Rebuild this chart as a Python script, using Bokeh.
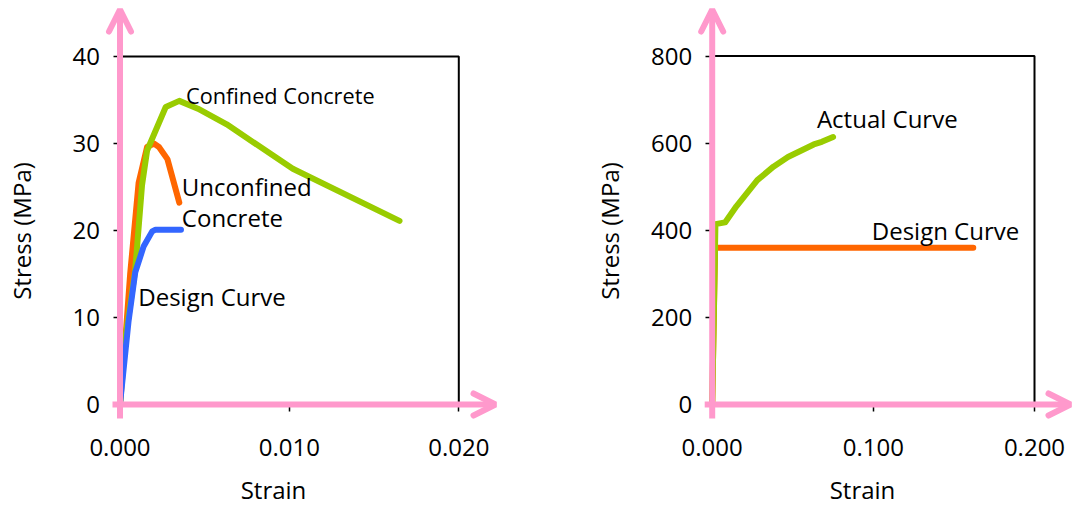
import math
from bokeh.plotting import figure
from bokeh.layouts import row
from bokeh.models import Range1d, FixedTicker, NumeralTickFormatter, Arrow, OpenHead, Label
from bokeh.embed import file_html
from bokeh.resources import INLINE
from bokeh.core.properties import value

# ---------------- data ----------------
# Left panel: concrete
conf_strain = [0, 0.0002, 0.0009, 0.0013, 0.0016, 0.0027, 0.0035, 0.0046, 0.0063, 0.0102, 0.0165]
conf_stress = [0, 6.0, 15.5, 25.2, 29.2, 34.2, 34.9, 34.0, 32.2, 27.1, 21.1]
unconf_strain = [0, 0.0003, 0.0006, 0.0011, 0.0016, 0.0020, 0.0023, 0.0028, 0.0035]
unconf_stress = [0, 7.0, 15.0, 25.5, 29.6, 30.0, 29.6, 28.2, 23.2]
cdesign_strain = [0, 0.0005, 0.0009, 0.0014, 0.0019, 0.0021, 0.0036]
cdesign_stress = [0, 9.5, 15.2, 18.2, 19.9, 20.1, 20.1]

# Right panel: steel
actual_strain = [0, 0.002, 0.008, 0.015, 0.028, 0.038, 0.047, 0.063, 0.068, 0.075]
actual_stress = [0, 414, 418, 455, 515, 546, 568, 597, 603, 614]
sdesign_strain = [0, 0.0018, 0.162]
sdesign_stress = [0, 360, 360]

left_xticks = [0, 0.010, 0.020]
left_yticks = [0, 10, 20, 30, 40]
right_xticks = [0, 0.100, 0.200]
right_yticks = [0, 200, 400, 600, 800]

x_title = "Strain"
y_title = "Stress (MPa)"

left_labels = ["Confined Concrete", "Unconfined", "Concrete", "Design Curve"]
left_label_x = [0.0039, 0.00365, 0.00365, 0.00108]
left_label_y = [35.5, 25.1, 21.5, 12.4]
left_label_size = ["21.7px", "24px", "24px", "24px"]
right_labels = ["Actual Curve", "Design Curve"]
right_label_x = [0.065, 0.099]
right_label_y = [657, 400]

GREEN = "#99CC00"
ORANGE = "#FF6600"
BLUE = "#3366FF"
PINK = "#FF99CC"
FONT = "Open Sans"

PAGE_MARGIN = 0
H = 506
TICK_OUT = 7.5


def make_panel(width, fig_left, box, xticks, yticks, xtitle_px, ytitle_px):
    px0, px1, py0, py1 = box
    xmax, ymax = xticks[-1], yticks[-1]
    sx = (px1 - px0) / xmax
    sy = (py0 - py1) / ymax
    x_start = -(px0 - fig_left) / sx
    x_end = x_start + width / sx
    y_start = -(PAGE_MARGIN + H - py0) / sy
    y_end = (py0 - PAGE_MARGIN) / sy
    p = figure(width=width, height=H, x_range=Range1d(x_start, x_end),
               y_range=Range1d(y_start, y_end), output_backend="svg",
               toolbar_location=None, min_border=0, outline_line_color=None)
    p.grid.visible = False
    p.background_fill_color = "white"
    p.border_fill_color = "white"

    for ax, ticks in ((p.xaxis, xticks), (p.yaxis, yticks)):
        ax.fixed_location = 0
        ax.ticker = FixedTicker(ticks=ticks, minor_ticks=[])
        ax.axis_line_color = None
        ax.major_tick_in = 0
        ax.major_tick_out = 7
        ax.major_tick_line_color = "black"
        ax.major_tick_line_width = 1.5
        ax.minor_tick_line_color = None
        ax.major_label_text_font = FONT
        ax.major_label_text_font_size = "24px"
        ax.major_label_text_color = "black"
    p.xaxis.formatter = NumeralTickFormatter(format="0.000")
    p.xaxis.major_label_standoff = 27
    p.yaxis.major_label_standoff = 13

    # axis titles (positioned relative to the data box)
    xt_x, xt_y = xtitle_px
    yt_x, yt_y = ytitle_px
    p.add_layout(Label(x=(xt_x - px0) / sx, y=(py0 - xt_y) / sy, text=x_title,
                       text_font=FONT, text_font_size="24px", text_color="black",
                       text_align="center", text_baseline="middle"))
    p.add_layout(Label(x=(yt_x - px0) / sx, y=(py0 - yt_y) / sy, text=y_title,
                       angle=math.pi / 2,
                       text_font=FONT, text_font_size="24px", text_color="black",
                       text_align="center", text_baseline="middle"))

    # frame box (top and right)
    p.line([0, xmax, xmax], [ymax, ymax, 0], line_color="black", line_width=2)

    # pink arrow-axis extents
    y_bottom = -14 / sy
    y_tip = (py0 - 9) / sy
    x_left = -TICK_OUT / sx
    return p, sx, sy, y_bottom, y_tip, x_left


def add_arrows(p, x_left, x_tip, y_bottom, y_tip):
    for xs, ys, xe, ye in ((0, y_bottom, 0, y_tip), (x_left, 0, x_tip, 0)):
        p.add_layout(Arrow(x_start=xs, y_start=ys, x_end=xe, y_end=ye,
                           line_color=PINK, line_width=6,
                           end=OpenHead(size=22, line_color=PINK, line_width=6,
                                        line_cap="round")))


# ---- left panel ----
W1 = 585
box1 = (119.5, 458.3, 404.0, 56.0)
p1, sx1, sy1, yb1, yt1, xl1 = make_panel(W1, PAGE_MARGIN, box1, left_xticks, left_yticks,
                                         (273, 488.5), (20.5, 230.5))
add_arrows(p1, xl1, (495 - box1[0]) / sx1, yb1, yt1)

for xs, ys, c in ((unconf_strain, unconf_stress, ORANGE),
                  (conf_strain, conf_stress, GREEN),
                  (cdesign_strain, cdesign_stress, BLUE)):
    p1.line(xs, ys, line_color=c, line_width=6, line_cap="round", line_join="round")

p1.text(x=left_label_x, y=left_label_y, text=left_labels,
        text_font=value(FONT), text_font_size=left_label_size,
        text_color="black", text_align="left", text_baseline="middle")

# ---- right panel ----
W2 = 1072 - W1
left2 = PAGE_MARGIN + W1
box2 = (711.7, 1034.0, 404.0, 55.5)
p2, sx2, sy2, yb2, yt2, xl2 = make_panel(W2, left2, box2, right_xticks, right_yticks,
                                         (862, 488.5), (608.5, 230.5))
add_arrows(p2, xl2, (1070 - box2[0]) / sx2, yb2, yt2)

for xs, ys, c in ((sdesign_strain, sdesign_stress, ORANGE),
                  (actual_strain, actual_stress, GREEN)):
    p2.line(xs, ys, line_color=c, line_width=6, line_cap="round", line_join="round")

p2.text(x=right_label_x, y=right_label_y, text=right_labels,
        text_font=value(FONT), text_font_size=value("24px"),
        text_color="black", text_align="left", text_baseline="middle")

layout = row(p1, p2)
open("out.html", "w").write(file_html(layout, INLINE))
